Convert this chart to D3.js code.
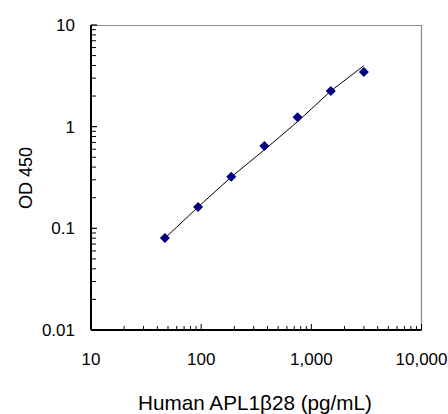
<!DOCTYPE html>
<meta charset="utf-8">
<script src="https://d3js.org/d3.v7.min.js"></script>
<style>
  body { margin: 0; background: #fff; }
  text { font-family: "Liberation Sans", Arial, sans-serif; fill: #000; }
</style>
<div id="chart"></div>
<script>
  // standard concentrations (pg/mL) and measured OD 450
  const conc = [46.875, 93.75, 187.5, 375, 750, 1500, 3000];
  const od = [0.0805, 0.162, 0.322, 0.645, 1.237, 2.24, 3.45];
  // fitted curve
  const fitConc = [46.875, 93.75, 187.5, 375, 750, 1500, 3000];
  const fitOd = [0.080, 0.162, 0.320, 0.592, 1.12, 2.24, 3.98];
  const xTicks = [10, 100, 1000, 10000];
  const yTicks = [0.01, 0.1, 1, 10];

  const W = 448, H = 414;
  const margin = { top: 25, right: 26.5, bottom: 84, left: 91 };
  const width = W - margin.left - margin.right,
        height = H - margin.top - margin.bottom;

  const svg = d3.select("#chart").append("svg")
      .attr("width", W).attr("height", H);
  const g = svg.append("g")
      .attr("transform", `translate(${margin.left},${margin.top})`);

  const x = d3.scaleLog().domain([10, 10000]).range([0, width]);
  const y = d3.scaleLog().domain([0.01, 10]).range([height, 0]);

  // minor ticks 2..9 for each decade
  const minor = (lo, hi) => {
    const out = [];
    for (let d = lo; d < hi; d *= 10)
      for (let k = 2; k < 10; k++) out.push(d * k);
    return out;
  };

  // frame top/right in gray
  g.append("path")
      .attr("d", `M0,0.5H${width}V${height}`)
      .attr("fill", "none").attr("stroke", "#8c8c8c").attr("stroke-width", 1.2);

  // x axis
  const xa = g.append("g").attr("transform", `translate(0,${height})`);
  xa.selectAll(".minor").data(minor(10, 10000)).join("line")
      .attr("x1", d => x(d)).attr("x2", d => x(d))
      .attr("y1", 0).attr("y2", -4)
      .attr("stroke", "#000").attr("stroke-width", 1);
  xa.selectAll(".major").data(xTicks).join("line")
      .attr("x1", d => x(d)).attr("x2", d => x(d))
      .attr("y1", 0).attr("y2", -6)
      .attr("stroke", "#000").attr("stroke-width", 1);
  xa.append("line").attr("x1", 0).attr("x2", width)
      .attr("stroke", "#000").attr("stroke-width", 2);
  xa.selectAll(".lab").data(xTicks).join("text")
      .attr("x", d => x(d)).attr("y", 35)
      .attr("text-anchor", "middle").attr("font-size", 17)
      .text(d => d3.format(",")(d));

  // y axis
  const ya = g.append("g");
  ya.selectAll(".minor").data(minor(0.01, 10)).join("line")
      .attr("y1", d => y(d)).attr("y2", d => y(d))
      .attr("x1", 0).attr("x2", 5)
      .attr("stroke", "#000").attr("stroke-width", 1);
  ya.selectAll(".major").data(yTicks).join("line")
      .attr("y1", d => y(d)).attr("y2", d => y(d))
      .attr("x1", 0).attr("x2", 6)
      .attr("stroke", "#000").attr("stroke-width", 1.2);
  ya.append("line").attr("y1", 0).attr("y2", height)
      .attr("stroke", "#000").attr("stroke-width", 2);
  ya.selectAll(".lab").data(yTicks).join("text")
      .attr("x", -16).attr("y", d => y(d)).attr("dy", "0.36em")
      .attr("text-anchor", "end").attr("font-size", 17)
      .text(d => d);

  // fit line
  const line = d3.line()
      .x((d, i) => x(fitConc[i]))
      .y(d => y(d));
  g.append("path").datum(fitOd)
      .attr("d", line)
      .attr("fill", "none").attr("stroke", "#000").attr("stroke-width", 1);

  // points
  g.selectAll(".pt").data(conc).join("path")
      .attr("d", d3.symbol(d3.symbolDiamond2, 64))
      .attr("transform", (d, i) => `translate(${x(d)},${y(od[i])})`)
      .attr("fill", "#000080");

  // titles
  svg.append("text")
      .attr("x", 255).attr("y", 410)
      .attr("text-anchor", "middle").attr("font-size", 20.7)
      .text("Human APL1β28 (pg/mL)");
  svg.append("text")
      .attr("transform", "translate(32,178) rotate(-90)")
      .attr("text-anchor", "middle").attr("font-size", 18)
      .text("OD 450");
</script>
